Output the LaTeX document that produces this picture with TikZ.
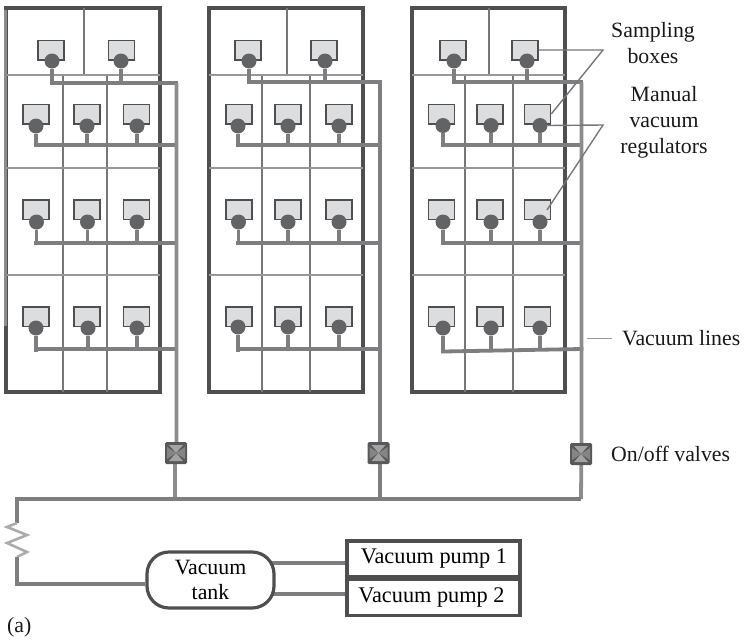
\documentclass[tikz,border=0pt]{standalone}
\usepackage{fontspec}
\setmainfont{Liberation Serif}
\usetikzlibrary{backgrounds}
\definecolor{wallc}{HTML}{4F4F51}
\definecolor{pipec}{HTML}{7E7E81}
\definecolor{thinc}{HTML}{77777A}
\definecolor{divc}{HTML}{98989A}
\definecolor{boxf}{HTML}{DCDDDE}
\definecolor{regc}{HTML}{636366}
\definecolor{valvec}{HTML}{58585A}
\definecolor{mainc}{HTML}{8C8C8F}
\tikzset{
  wall/.style={draw=wallc,line width=3.1pt,fill=white},
  part/.style={draw=thinc,line width=1.9pt},
  dividr/.style={draw=divc,line width=1.7pt},
  pipe/.style={draw=pipec,line width=3.8pt},
  mainpipe/.style={draw=mainc,line width=3.8pt},
  sampler/.style={draw=wallc,line width=1.5pt,fill=boxf,minimum width=26pt,minimum height=19.5pt,inner sep=0pt},
  regul/.style={circle,fill=regc,minimum size=15pt,inner sep=0pt},
  valvebox/.style={rounded corners=1.5pt,fill=valvec,minimum size=22pt,inner sep=0pt},
  leader/.style={draw=thinc,line width=1.4pt},
  lbl/.style={font=\fontsize{21.8}{26}\selectfont,align=center,text=black!90,inner sep=0pt},
  tank/.style={draw=wallc,line width=3.2pt,fill=white,rounded corners=22pt,minimum width=127pt,minimum height=56pt,inner sep=0pt,align=center,font=\fontsize{21.8}{25}\selectfont},
  pump/.style={draw=wallc,line width=3.2pt,fill=white,minimum width=173pt,minimum height=36pt,inner sep=0pt,font=\fontsize{22.3}{25}\selectfont}
}
% \bldg{left}{right}{topdiv}{div1}{div2}
\newcommand{\bldg}[5]{%
  \draw[wall] (#1,8) rectangle (#2,392);
  \draw[part] (#3,8) -- (#3,75);
  \draw[part] (#4,75) -- (#4,392);
  \draw[part] (#5,75) -- (#5,392);
  \draw[dividr] (#1,75) -- (#2,75);
  \draw[dividr] (#1,168) -- (#2,168);
  \draw[dividr] (#1,275) -- (#2,275);
}
% \unit{name}{box x}{box y}{reg x}{reg y}{pipe end y}
\newcommand{\unit}[6]{%
  \node[sampler] (s#1) at (#2,#3) {};
  \node[regul] (r#1) at (#4,#5) {};
  \coordinate (j#1) at (#4,#6);
  \draw[pipe] (r#1.south) -- (j#1);
}
\newcommand{\valve}[3]{%
  \node[valvebox] (#1) at (#2,#3) {};
  \fill[black!36] (#1.center) -- (#2-7,#3-8) -- (#2+7,#3-8) -- cycle;
  \fill[black!36] (#1.center) -- (#2-7,#3+8) -- (#2+7,#3+8) -- cycle;
  \fill[black!48] (#1.center) -- (#2-9,#3-6) -- (#2-9,#3+6) -- cycle;
  \fill[black!48] (#1.center) -- (#2+9,#3-6) -- (#2+9,#3+6) -- cycle;
}
\begin{document}
\begin{tikzpicture}[x=1pt,y=-1pt]
\useasboundingbox (0,0) rectangle (744,640);
\bldg{6}{160}{84}{63}{107}
\draw[draw=black!45,line width=2.4pt] (5.6,10) -- (5.6,326);
\bldg{209}{363}{287}{262}{310}
\bldg{412}{565}{489}{465}{513}
% building 1
\coordinate (m1a) at (176.5,83); \coordinate (m1b) at (176.5,145);
\coordinate (m1c) at (176.5,243); \coordinate (m1d) at (176.5,349);
\coordinate (t1a) at (52,83); \coordinate (t1b) at (36,145);
\coordinate (t1c) at (36,243); \coordinate (t1d) at (36,349);
\unit{a1}{51}{50}{52}{61}{83}\unit{a2}{121.5}{50}{121}{61}{83}
\unit{a3}{36}{114}{36}{126}{145}\unit{a4}{87}{114}{87}{126}{145}\unit{a5}{136.5}{114}{137}{126}{145}
\unit{a6}{36}{209.5}{36.5}{222}{243}\unit{a7}{87}{209.5}{87.5}{222}{243}\unit{a8}{136.5}{209.5}{137}{222}{243}
\unit{a9}{36}{316.5}{36}{328}{352}\unit{a10}{87}{316.5}{88}{328}{349}\unit{a11}{136.5}{316.5}{137}{328}{349}
\draw[pipe,line cap=rect] (t1a) -- (m1a);
\draw[pipe,line cap=rect] (t1b) -- (m1b);
\draw[pipe,line cap=rect] (t1c) -- (m1c);
\draw[pipe,line cap=rect] (t1d) -- (m1d);
% building 2
\coordinate (m2a) at (380,82); \coordinate (m2b) at (380,145);
\coordinate (m2c) at (380,243); \coordinate (m2d) at (380,349);
\coordinate (t2a) at (249,82); \coordinate (t2b) at (238,145);
\coordinate (t2c) at (238,243); \coordinate (t2d) at (238,349);
\unit{b1}{248}{50}{249}{61}{82}\unit{b2}{324}{50}{325}{61}{82}
\unit{b3}{239}{114}{238}{126}{145}\unit{b4}{288}{114}{288}{126}{145}\unit{b5}{339}{114}{339}{126}{145}
\unit{b6}{239}{209.5}{238.5}{222}{243}\unit{b7}{288}{209.5}{288}{222}{243}\unit{b8}{339}{209.5}{339}{222}{243}
\unit{b9}{239}{316.5}{238}{327}{352}\unit{b10}{288}{316.5}{288}{327}{349}\unit{b11}{339}{316.5}{339}{327}{349}
\draw[pipe,line cap=rect] (t2a) -- (m2a);
\draw[pipe,line cap=rect] (t2b) -- (m2b);
\draw[pipe,line cap=rect] (t2c) -- (m2c);
\draw[pipe,line cap=rect] (t2d) -- (m2d);
% building 3
\coordinate (m3a) at (581.5,82); \coordinate (m3b) at (581.5,145);
\coordinate (m3c) at (581.5,243); \coordinate (m3d) at (581.5,349);
\coordinate (t3a) at (454,82); \coordinate (t3b) at (443,145);
\coordinate (t3c) at (443,243); \coordinate (t3d) at (443,351.5);
\unit{c1}{453}{50}{454}{61}{82}\unit{c2}{525}{50}{527}{61}{82}
\unit{c3}{441.5}{114}{443}{125.5}{145}\unit{c4}{490}{114}{491}{125.5}{145}\unit{c5}{537.5}{114}{540}{125.5}{145}
\unit{c6}{441.5}{209.5}{443}{222}{243}\unit{c7}{490}{209.5}{491}{222}{243}\unit{c8}{537.5}{209.5}{540}{222}{243}
\unit{c9}{441.5}{316.5}{443}{328}{353}\unit{c10}{490}{316.5}{491}{328}{350}\unit{c11}{537.5}{316.5}{540}{328}{350}
\draw[pipe,line cap=rect] (t3a) -- (m3a);
\draw[pipe,line cap=rect] (t3b) -- (m3b);
\draw[pipe,line cap=rect] (t3c) -- (m3c);
\draw[pipe,line cap=rect] (t3d) -- (m3d);
% header
\coordinate (h0) at (17,499); \coordinate (h1) at (175,499);
\coordinate (h2) at (380,499); \coordinate (h3) at (581,499);
\draw[mainpipe] (m1a) -- (176.5,442) -- (175,448) -- (h1);
\draw[mainpipe,draw=pipec] (m2a) -- (h2);
\draw[mainpipe] (m3a) -- (581.5,442) -- (h3);
\draw[pipe,line join=miter] (h3) -- (h0) -- (17,523);
\valve{v1}{176}{453}
\valve{v2}{378.5}{453}
\valve{v3}{581}{454}
% tank and pumps
\node[tank] (tank) at (210.5,580) {Vacuum\\tank};
\node[pump] (p1) at (433.5,559) {\raisebox{-1pt}{\hspace*{1pt}Vacuum pump 1}};
\node[pump] (p2) at (433.5,597.5) {\hspace*{-4pt}Vacuum pump 2};
\coordinate (z0) at (17,523); \coordinate (z1) at (17,557);
\draw[draw=black!33,line width=2.6pt] (z0) -- (7,527) -- (27,535) -- (7,543) -- (27,552) -- (z1);
\draw[pipe,line join=miter] (z1) -- (17,584) -- (tank.west |- 0,584);
\begin{scope}[on background layer]
\draw[pipe] (tank.center |- 0,563) -- (p1.west |- 0,563);
\draw[pipe] (tank.center |- 0,594) -- (p2.west |- 0,594);
\end{scope}
% labels
\node[lbl] (lsamp) at (653,43.5) {Sampling\\boxes};
\node[lbl] (lman) at (664,122) {Manual\\vacuum\\regulators};
\node[lbl,anchor=west] (lvac) at (622,338) {Vacuum lines};
\node[lbl,anchor=west] (lval) at (611,454) {On/off valves};
\node[lbl,anchor=west] (la) at (7,627) {(a)};
\coordinate (q1) at (603,50); \coordinate (q2) at (603,125);
\coordinate (q3) at (587,338.5); \coordinate (q4) at (612,338.5);
\draw[leader] (sc2.east) -- (q1) -- (sc5.east);
\draw[leader] (rc5.east) -- (q2) -- (547,210);
\draw[leader,draw=black!40] (q3) -- (q4);
\end{tikzpicture}
\end{document}
